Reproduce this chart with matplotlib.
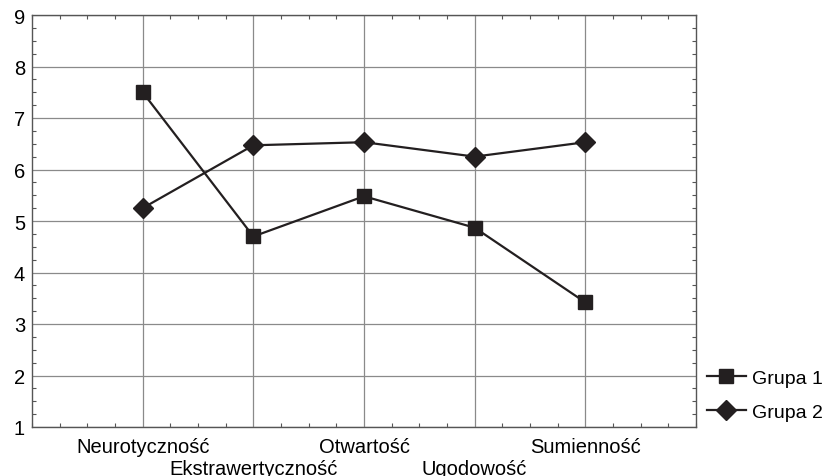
import matplotlib.pyplot as plt
from matplotlib.ticker import MultipleLocator

plt.rcParams['font.family'] = ['Liberation Sans', 'DejaVu Sans']

traits = ['Neurotyczność', 'Ekstrawertyczność', 'Otwartość', 'Ugodowość', 'Sumienność']
grupa1 = [7.5, 4.7, 5.48, 4.87, 3.42]
grupa2 = [5.25, 6.47, 6.53, 6.25, 6.53]

fig = plt.figure(figsize=(8.27, 4.77), dpi=100)
ax = fig.add_axes([32 / 827, 1 - 428 / 477, (696 - 32) / 827, (428 - 16) / 477])

x = list(range(1, len(traits) + 1))
line_color = '#231f20'
ax.plot(x, grupa1, color=line_color, lw=1.6, marker='s', ms=9.5, label='Grupa 1', zorder=3)
ax.plot(x, grupa2, color=line_color, lw=1.6, marker='D', ms=10, label='Grupa 2', zorder=3)

ax.set_xlim(0, 6)
ax.set_ylim(1, 9)
ax.set_xticks(x)
ax.set_xticklabels(traits, fontsize=14.5)
ax.set_yticks(range(1, 10))
ax.tick_params(axis='y', labelsize=14.5)
ax.xaxis.set_minor_locator(MultipleLocator(0.25))
ax.yaxis.set_minor_locator(MultipleLocator(0.25))
ax.tick_params(which='both', direction='in', top=True, right=True, color='#555555')
ax.tick_params(which='major', length=0)
ax.tick_params(axis='x', which='major', pad=7)
ax.tick_params(axis='y', which='major', pad=5)
ax.tick_params(which='minor', length=3, width=0.8)
# alternate labels on two rows
for i, t in enumerate(ax.xaxis.get_major_ticks()):
    if i % 2 == 1:
        t.set_pad(23)
ax.grid(True, which='major', color='#8a8a8a', lw=0.9)
for s in ax.spines.values():
    s.set_color('#555555')
    s.set_linewidth(1)

fig.legend(loc='center left', bbox_to_anchor=(697 / 827, 1 - 396 / 477), frameon=False,
           fontsize=14, borderpad=0, handlelength=2.0, handletextpad=0.35, labelspacing=0.85)

fig.savefig('out.png', dpi=100)
